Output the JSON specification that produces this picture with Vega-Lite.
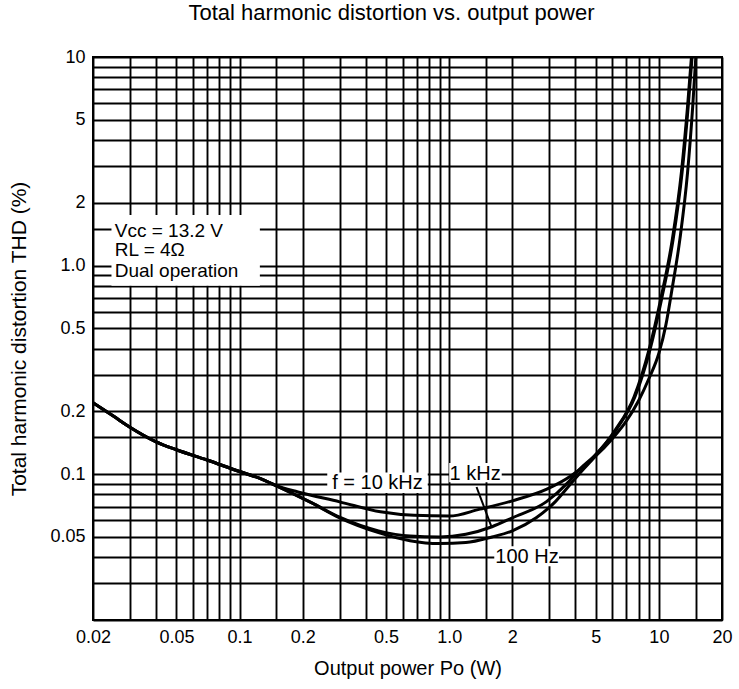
{
  "$schema": "https://vega.github.io/schema/vega-lite/v6.json",
  "width": 629,
  "height": 563,
  "autosize": {"type": "none"},
  "padding": {"left": 93, "top": 57, "right": 17, "bottom": 69},
  "background": "white",
  "title": {"text": "Total harmonic distortion vs. output power", "font": "Liberation Sans", "fontSize": 22, "fontWeight": "normal", "color": "black", "offset": 23, "dx": -16},
  "config": {
    "view": {"stroke": "black", "strokeWidth": 2},
    "axis": {"grid": true, "gridColor": "black", "gridWidth": 1.9, "gridOpacity": 1, "ticks": false, "domain": false,
      "labelFont": "Liberation Sans", "labelFontSize": 18, "labelColor": "black", "labelOverlap": false, "labelFlush": false, "labelBound": false,
      "titleFont": "Liberation Sans", "titleFontSize": 20, "titleFontWeight": "normal", "titleColor": "black"}
  },
  "datasets": {
    "curves": [
      {"f": "100 Hz", "P": 0.02, "T": 0.22}, {"f": "100 Hz", "P": 0.025, "T": 0.19}, {"f": "100 Hz", "P": 0.03, "T": 0.168}, {"f": "100 Hz", "P": 0.04, "T": 0.143}, {"f": "100 Hz", "P": 0.05, "T": 0.131}, {"f": "100 Hz", "P": 0.07, "T": 0.117}, {"f": "100 Hz", "P": 0.1, "T": 0.103}, {"f": "100 Hz", "P": 0.125, "T": 0.0955}, {"f": "100 Hz", "P": 0.15, "T": 0.088},
      {"f": "100 Hz", "P": 0.22, "T": 0.073}, {"f": "100 Hz", "P": 0.3, "T": 0.0618}, {"f": "100 Hz", "P": 0.46, "T": 0.0525}, {"f": "100 Hz", "P": 0.65, "T": 0.048}, {"f": "100 Hz", "P": 0.9, "T": 0.0465}, {"f": "100 Hz", "P": 1.2, "T": 0.047}, {"f": "100 Hz", "P": 1.6, "T": 0.05}, {"f": "100 Hz", "P": 2.0, "T": 0.0535}, {"f": "100 Hz", "P": 2.6, "T": 0.0618}, {"f": "100 Hz", "P": 3.2, "T": 0.0737}, {"f": "100 Hz", "P": 3.8, "T": 0.09}, {"f": "100 Hz", "P": 4.3, "T": 0.104}, {"f": "100 Hz", "P": 4.9, "T": 0.12}, {"f": "100 Hz", "P": 6.2, "T": 0.163}, {"f": "100 Hz", "P": 7.6, "T": 0.234}, {"f": "100 Hz", "P": 9.0, "T": 0.40}, {"f": "100 Hz", "P": 10.2, "T": 0.69}, {"f": "100 Hz", "P": 11.6, "T": 1.34}, {"f": "100 Hz", "P": 12.8, "T": 2.79}, {"f": "100 Hz", "P": 13.7, "T": 5.8}, {"f": "100 Hz", "P": 14.3, "T": 10},

      {"f": "1 kHz", "P": 0.02, "T": 0.22}, {"f": "1 kHz", "P": 0.025, "T": 0.19}, {"f": "1 kHz", "P": 0.03, "T": 0.168}, {"f": "1 kHz", "P": 0.04, "T": 0.143}, {"f": "1 kHz", "P": 0.05, "T": 0.131}, {"f": "1 kHz", "P": 0.07, "T": 0.117}, {"f": "1 kHz", "P": 0.1, "T": 0.103}, {"f": "1 kHz", "P": 0.125, "T": 0.0955}, {"f": "1 kHz", "P": 0.15, "T": 0.088},
      {"f": "1 kHz", "P": 0.22, "T": 0.073}, {"f": "1 kHz", "P": 0.3, "T": 0.0622}, {"f": "1 kHz", "P": 0.46, "T": 0.0535}, {"f": "1 kHz", "P": 0.65, "T": 0.0505}, {"f": "1 kHz", "P": 0.9, "T": 0.05}, {"f": "1 kHz", "P": 1.2, "T": 0.0515}, {"f": "1 kHz", "P": 1.6, "T": 0.056}, {"f": "1 kHz", "P": 2.0, "T": 0.0618}, {"f": "1 kHz", "P": 2.9, "T": 0.0737}, {"f": "1 kHz", "P": 3.7, "T": 0.0916}, {"f": "1 kHz", "P": 4.2, "T": 0.106}, {"f": "1 kHz", "P": 4.9, "T": 0.122}, {"f": "1 kHz", "P": 6.3, "T": 0.165}, {"f": "1 kHz", "P": 7.7, "T": 0.236}, {"f": "1 kHz", "P": 9.1, "T": 0.40}, {"f": "1 kHz", "P": 10.3, "T": 0.69}, {"f": "1 kHz", "P": 11.7, "T": 1.34}, {"f": "1 kHz", "P": 12.9, "T": 2.79}, {"f": "1 kHz", "P": 13.8, "T": 5.8}, {"f": "1 kHz", "P": 14.4, "T": 10},

      {"f": "10 kHz", "P": 0.02, "T": 0.22}, {"f": "10 kHz", "P": 0.025, "T": 0.19}, {"f": "10 kHz", "P": 0.03, "T": 0.168}, {"f": "10 kHz", "P": 0.04, "T": 0.143}, {"f": "10 kHz", "P": 0.05, "T": 0.131}, {"f": "10 kHz", "P": 0.07, "T": 0.117}, {"f": "10 kHz", "P": 0.1, "T": 0.103}, {"f": "10 kHz", "P": 0.125, "T": 0.0955}, {"f": "10 kHz", "P": 0.15, "T": 0.088},
      {"f": "10 kHz", "P": 0.19, "T": 0.0822}, {"f": "10 kHz", "P": 0.3, "T": 0.0737}, {"f": "10 kHz", "P": 0.47, "T": 0.066}, {"f": "10 kHz", "P": 0.68, "T": 0.0635}, {"f": "10 kHz", "P": 1.0, "T": 0.063}, {"f": "10 kHz", "P": 1.4, "T": 0.068}, {"f": "10 kHz", "P": 2.0, "T": 0.0745}, {"f": "10 kHz", "P": 2.94, "T": 0.085}, {"f": "10 kHz", "P": 3.8, "T": 0.098}, {"f": "10 kHz", "P": 4.9, "T": 0.12}, {"f": "10 kHz", "P": 6.0, "T": 0.148}, {"f": "10 kHz", "P": 7.0, "T": 0.18}, {"f": "10 kHz", "P": 8.0, "T": 0.225}, {"f": "10 kHz", "P": 9.0, "T": 0.29}, {"f": "10 kHz", "P": 10.0, "T": 0.38}, {"f": "10 kHz", "P": 10.8, "T": 0.52}, {"f": "10 kHz", "P": 11.5, "T": 0.75}, {"f": "10 kHz", "P": 12.6, "T": 1.343}, {"f": "10 kHz", "P": 13.7, "T": 2.79}, {"f": "10 kHz", "P": 14.5, "T": 5.8}, {"f": "10 kHz", "P": 15.0, "T": 10}
    ],
    "boxes": [
      {"P": 0.0245, "P2": 0.125, "T": 0.8, "T2": 1.75},
      {"P": 0.262, "P2": 0.79, "T": 0.0813, "T2": 0.102},
      {"P": 1.0, "P2": 1.78, "T": 0.0915, "T2": 0.113},
      {"P": 1.64, "P2": 3.34, "T": 0.0362, "T2": 0.0451}
    ],
    "pointer": [
      {"P": 1.35, "T": 0.0868, "P2": 1.59, "T2": 0.0561}
    ],
    "notes": [
      {"label": "Vcc = 13.2 V", "P": 0.0254, "T": 1.466},
      {"label": "RL = 4Ω", "P": 0.0254, "T": 1.191},
      {"label": "Dual operation", "P": 0.0254, "T": 0.947}
    ],
    "curveLabels": [
      {"label": "f = 10 kHz", "P": 0.455, "T": 0.0906},
      {"label": "1 kHz", "P": 1.33, "T": 0.1},
      {"label": "100 Hz", "P": 2.35, "T": 0.04}
    ]
  },
  "encoding": {
    "x": {"field": "P", "type": "quantitative",
      "scale": {"type": "log", "domain": [0.02, 20], "nice": false, "zero": false},
      "axis": {"values": [0.02,0.03,0.04,0.05,0.06,0.07,0.08,0.09,0.1,0.15,0.2,0.3,0.4,0.5,0.6,0.7,0.8,0.9,1,1.5,2,3,4,5,6,7,8,9,10,15,20],
        "labelExpr": "datum.value == 1 ? '1.0' : (indexof([0.02,0.05,0.1,0.2,0.5,2,5,10,20], datum.value) >= 0 ? format(datum.value, '~g') : '')",
        "labelPadding": 8, "title": "Output power Po (W)", "titlePadding": 12}},
    "y": {"field": "T", "type": "quantitative",
      "scale": {"type": "log", "domain": [0.02, 10], "nice": false, "zero": false},
      "axis": {"values": [0.02,0.03,0.04,0.05,0.06,0.07,0.08,0.09,0.1,0.15,0.2,0.3,0.4,0.5,0.6,0.7,0.8,0.9,1,1.5,2,3,4,5,6,7,8,9,10],
        "labelExpr": "datum.value == 1 ? '1.0' : (indexof([0.05,0.1,0.2,0.5,2,5,10], datum.value) >= 0 ? format(datum.value, '~g') : '')",
        "labelPadding": 8, "title": "Total harmonic distortion THD (%)", "titlePadding": 20, "titleFontSize": 21}}
  },
  "layer": [
    {"data": {"name": "boxes"}, "mark": {"type": "rect", "fill": "white", "stroke": null},
      "encoding": {"x2": {"field": "P2"}, "y2": {"field": "T2"}}},
    {"data": {"name": "curves"}, "mark": {"type": "line", "color": "black", "strokeWidth": 3, "interpolate": "monotone", "clip": true},
      "encoding": {"detail": {"field": "f", "type": "nominal"}}},
    {"data": {"name": "pointer"}, "mark": {"type": "rule", "color": "black", "strokeWidth": 2},
      "encoding": {"x2": {"field": "P2"}, "y2": {"field": "T2"}}},
    {"data": {"name": "notes"}, "mark": {"type": "text", "align": "left", "baseline": "middle", "font": "Liberation Sans", "fontSize": 19, "color": "black"},
      "encoding": {"text": {"field": "label"}}},
    {"data": {"name": "curveLabels"}, "mark": {"type": "text", "align": "center", "baseline": "middle", "font": "Liberation Sans", "fontSize": 20, "color": "black"},
      "encoding": {"text": {"field": "label"}}}
  ]
}
